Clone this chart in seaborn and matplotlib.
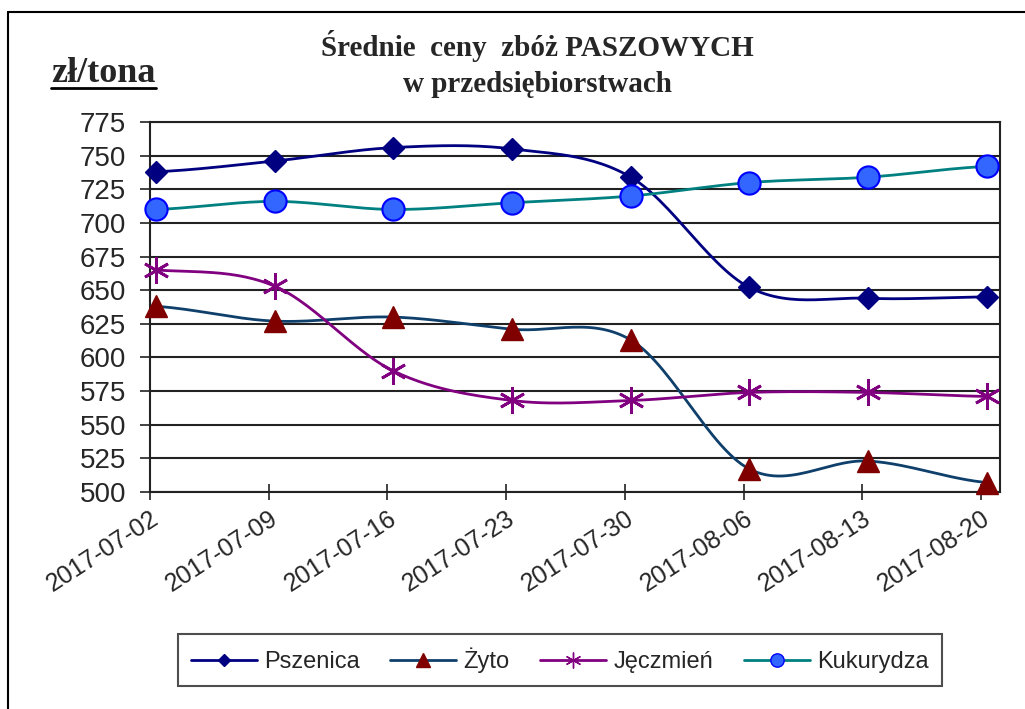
import numpy as np
import pandas as pd
import matplotlib
matplotlib.use("Agg")
import matplotlib.pyplot as plt
import seaborn as sns
from matplotlib.lines import Line2D

# --- data (zł/tona) ---
dates = ["2017-07-02", "2017-07-09", "2017-07-16", "2017-07-23",
         "2017-07-30", "2017-08-06", "2017-08-13", "2017-08-20"]
pszenica = [738, 746, 756, 755, 734, 652, 644, 645]
zyto = [638, 627, 630, 621, 613, 517, 523, 507]
jeczmien = [665, 653, 590, 568, 568, 574, 574, 571]
kukurydza = [710, 716, 710, 715, 720, 730, 734, 742]

series = {
    "Pszenica": pszenica,
    "Żyto": zyto,
    "Jęczmień": jeczmien,
    "Kukurydza": kukurydza,
}

styles = {
    "Pszenica": dict(color="#000080", marker="D", ms=11, mfc="#000080", mec="#000080", mew=1),
    "Żyto": dict(color="#0F3F6B", marker="^", ms=16, mfc="#800000", mec="#800000", mew=1),
    "Jęczmień": dict(color="#800080", marker=(6, 2, 0), ms=19, mfc="#800080", mec="#800080", mew=2),
    "Kukurydza": dict(color="#008080", marker="o", ms=16, mfc="#3366FF", mec="#0000FF", mew=1.5),
}


def smooth(x, y, n=30):
    # Catmull-Rom style curve through the points (like Excel "smoothed line")
    x = np.asarray(x, float)
    y = np.asarray(y, float)
    px = np.concatenate([[2 * x[0] - x[1]], x, [2 * x[-1] - x[-2]]])
    py = np.concatenate([[y[0]], y, [y[-1]]])
    xs, ys = [], []
    t = np.linspace(0, 1, n)
    for i in range(1, len(px) - 2):
        p0, p1, p2, p3 = py[i - 1], py[i], py[i + 1], py[i + 2]
        q0, q1, q2, q3 = px[i - 1], px[i], px[i + 1], px[i + 2]
        c1y, c2y = p1 + (p2 - p0) / 6, p2 - (p3 - p1) / 6
        c1x, c2x = q1 + (q2 - q0) / 6, q2 - (q3 - q1) / 6
        b = [(1 - t) ** 3, 3 * (1 - t) ** 2 * t, 3 * (1 - t) * t ** 2, t ** 3]
        xs.append(b[0] * q1 + b[1] * c1x + b[2] * c2x + b[3] * q2)
        ys.append(b[0] * p1 + b[1] * c1y + b[2] * c2y + b[3] * p2)
    return np.concatenate(xs), np.concatenate(ys)


sns.set_theme(style="white")
plt.rcParams["font.family"] = ["Liberation Sans", "DejaVu Sans"]

fig = plt.figure(figsize=(10.25, 7.09), dpi=100)
ax = fig.add_axes([0.1463, 0.3061, 0.8293, 0.5218])

# points sit a touch right of the weekly ticks, as in the source
xpos = np.arange(len(dates)) + 0.05

for name, vals in series.items():
    st = styles[name]
    sx, sy = smooth(xpos, vals)
    sns.lineplot(x=sx, y=sy, ax=ax, color=st["color"], linewidth=2, sort=False,
                 estimator=None, zorder=3)
    ax.plot(xpos, vals, linestyle="none", marker=st["marker"], markersize=st["ms"],
            markerfacecolor=st["mfc"], markeredgecolor=st["mec"],
            markeredgewidth=st["mew"], zorder=4, clip_on=False)

ax.set_xlim(0, 7.16)
ax.set_ylim(500, 775)
ax.set_yticks(np.arange(500, 776, 25))
ax.set_xticks(np.arange(len(dates)))
ax.set_xticklabels(dates, rotation=33, ha="right", rotation_mode="anchor", fontsize=18)
ax.tick_params(axis="y", labelsize=20, direction="out", length=7, width=1.2,
               color="#222222", left=True, pad=10)
ax.tick_params(axis="x", direction="inout", length=12, width=1.2, color="#222222",
               bottom=True, pad=4)
ax.grid(axis="y", color="#222222", linewidth=1.5)
ax.grid(axis="x", visible=False)
for side in ["left", "bottom", "right", "top"]:
    ax.spines[side].set_visible(True)
    ax.spines[side].set_color("#222222")
    ax.spines[side].set_linewidth(1.5)
ax.set_xlabel("")
ax.set_ylabel("")

serif = ["Liberation Serif", "DejaVu Serif"]
fig.text(0.524, 0.935, "Średnie  ceny  zbóż PASZOWYCH", ha="center", va="center",
         fontsize=21, fontweight="bold", family=serif)
fig.text(0.524, 0.881, "w przedsiębiorstwach", ha="center", va="center",
         fontsize=21, fontweight="bold", family=serif)
fig.text(0.05, 0.897, "zł/tona", ha="left", va="center", fontsize=26,
         fontweight="bold", family=serif)
fig.add_artist(Line2D([0.05, 0.152], [0.876, 0.876], color="black", linewidth=2))

# figure frame (top and left edges visible in the reference)
fig.add_artist(Line2D([0.008, 1.0], [0.983, 0.983], color="black", linewidth=1.5))
fig.add_artist(Line2D([0.008, 0.008], [0.0, 0.983], color="black", linewidth=1.5))

handles = []
for name in series:
    st = styles[name]
    handles.append(Line2D([0], [0], color=st["color"], linewidth=2, marker=st["marker"],
                          markersize=st["ms"] * 0.6, markerfacecolor=st["mfc"],
                          markeredgecolor=st["mec"], markeredgewidth=1))
leg = fig.legend(handles, list(series.keys()), loc="center", ncol=4,
                 bbox_to_anchor=(0.546, 0.069), fontsize=17, frameon=True,
                 fancybox=False, edgecolor="#222222", handlelength=2.8,
                 handletextpad=0.3, columnspacing=1.3, borderpad=0.55)
leg.get_frame().set_linewidth(1.5)

fig.savefig("out.png", dpi=100, facecolor="white")
